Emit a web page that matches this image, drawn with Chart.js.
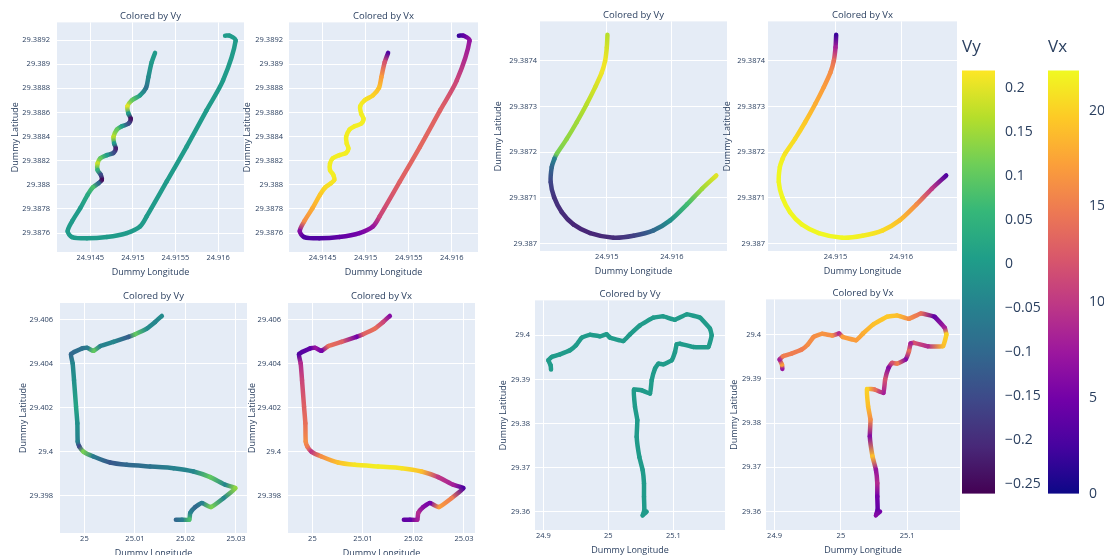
<!DOCTYPE html>
<html>
<head>
<meta charset="utf-8">
<script src="https://cdn.jsdelivr.net/npm/chart.js@4.4.1/dist/chart.umd.min.js"></script>
<style>
  html, body { margin: 0; padding: 0; background: #fff; }
  #page { position: relative; width: 1104px; height: 555px; overflow: hidden; }
  #page canvas { position: absolute; }
</style>
</head>
<body>
<div id="page"></div>
<script>
// ---- trip A (top left pair) ----
const tripALon = [24.91526, 24.915221, 24.915182, 24.915155, 24.915084, 24.914987, 24.914936, 24.914948, 24.914975, 24.914948,
  24.91487, 24.914812, 24.914773, 24.91478, 24.9148, 24.914773, 24.914695, 24.914617, 24.914586, 24.914586,
  24.914625, 24.914636, 24.914597, 24.914531, 24.914469, 24.914383, 24.914286, 24.914235, 24.914286, 24.914461,
  24.914695, 24.914929, 24.915084, 24.915162, 24.915396, 24.91563, 24.915864, 24.916058, 24.916206, 24.916136, 24.916082];
const tripALat = [29.389093, 29.389016, 29.388892, 29.388804, 29.388741, 29.3887, 29.38865, 29.38859, 29.388548, 29.388507,
  29.388485, 29.388458, 29.388397, 29.388342, 29.388301, 29.388265, 29.388246, 29.388219, 29.388177, 29.388122,
  29.388081, 29.38804, 29.388012, 29.387979, 29.387916, 29.387806, 29.387696, 29.387614, 29.387567, 29.387556,
  29.387567, 29.3876, 29.387655, 29.387738, 29.388026, 29.388315, 29.388617, 29.388865, 29.389195, 29.389236, 29.389236];
const tripAVy = [0, 0, -0.03, -0.08, 0, 0.1, 0.2, 0, -0.24, -0.15,
  0, 0.1, 0.17, 0, -0.22, -0.15, 0, 0.1, 0.18, 0.05,
  -0.15, -0.25, -0.1, 0.08, 0.03, 0, 0, 0, 0, 0,
  0, 0, 0, 0, 0, 0, 0, 0, 0, 0, 0];
const tripAVx = [3, 12, 17, 19, 20, 21, 21.5, 21.5, 21.5, 21.5,
  21.5, 21.5, 21.5, 21.5, 21.5, 21.5, 21.5, 21.5, 21.5, 21.5,
  21.5, 21, 21, 20.5, 19.5, 18, 16, 6, 3, 3,
  4, 5, 7, 11, 13, 13.5, 13, 11, 7, 4, 2];
const tripAXRange = [24.91411, 24.916304];
const tripAYRange = [29.387443, 29.389346];
const tripAXTicks = [24.9145, 24.915, 24.9155, 24.916];
const tripAYTicks = [29.3876, 29.3878, 29.388, 29.3882, 29.3884, 29.3886, 29.3888, 29.389, 29.3892];

// ---- trip B (top right pair) ----
const tripBLon = [24.91501, 24.915, 24.914974, 24.914923, 24.91482, 24.914692, 24.914538, 24.914385, 24.914231, 24.914195,
  24.914154, 24.914138, 24.91419, 24.914308, 24.914487, 24.914744, 24.915103, 24.91541, 24.915718, 24.915974,
  24.916231, 24.916462, 24.916682];
const tripBLat = [29.3874567, 29.3874291, 29.3874, 29.3873745, 29.3873418, 29.3873055, 29.3872655, 29.3872291, 29.3871964, 29.3871854,
  29.3871673, 29.3871345, 29.3871018, 29.3870691, 29.3870422, 29.3870233, 29.3870131, 29.3870174, 29.3870291, 29.3870509,
  29.3870858, 29.38712, 29.3871491];
const tripBVy = [0.17, 0.19, 0.21, 0.21, 0.19, 0.17, 0.15, 0.14, 0.12, -0.05,
  -0.1, -0.16, -0.19, -0.2, -0.21, -0.21, -0.2, -0.17, -0.1, -0.02,
  0.07, 0.15, 0.2];
const tripBVx = [2, 8, 14, 16, 17, 18, 19.5, 20.5, 21, 21.5,
  22, 22, 22, 22, 22, 22, 22, 21.5, 20.5, 19,
  16, 10, 3];
const tripBXRange = [24.913974, 24.916846];
const tripBYRange = [29.386984, 29.387486];
const tripBXTicks = [24.915, 24.916];
const tripBYTicks = [29.387, 29.3871, 29.3872, 29.3873, 29.3874];

// ---- trip C (bottom left pair) ----
const tripCLon = [25.01533, 25.014009, 25.012357, 25.010044, 25.008722, 25.005749, 25.003106, 25.001784, 25.000595, 24.999471,
  24.997357, 24.997687, 24.997951, 24.998348, 24.998612, 24.998678, 24.999009, 24.999802, 25.001784, 25.005088,
  25.008392, 25.013018, 25.017643, 25.021608, 25.024912, 25.027886, 25.029868, 25.027555, 25.025044, 25.02326,
  25.021938, 25.020947, 25.020749, 25.019295, 25.018106];
const tripCLat = [29.406166, 29.405894, 29.405593, 29.405336, 29.405215, 29.404989, 29.404793, 29.404582, 29.404717, 29.404687,
  29.404431, 29.404008, 29.403254, 29.402046, 29.401292, 29.400462, 29.400236, 29.400009, 29.399783, 29.399511,
  29.399406, 29.39933, 29.399255, 29.399104, 29.398847, 29.3985, 29.398349, 29.397897, 29.397489, 29.39767,
  29.397489, 29.397218, 29.396916, 29.396916, 29.396916];
const tripCVy = [-0.03, -0.04, -0.03, 0.1, -0.12, -0.04, -0.05, 0.1, -0.06, -0.08,
  -0.1, -0.04, -0.02, 0.02, -0.02, -0.05, -0.15, 0.12, -0.06, -0.13,
  -0.1, -0.08, -0.05, -0.04, 0.1, -0.04, 0.14, -0.04, 0.12, -0.05,
  -0.1, -0.05, 0.08, -0.06, -0.1];
const tripCVx = [6, 11, 14, 13, 5, 13, 14, 5, 7, 4,
  3, 9, 11, 13, 14, 16, 15, 10, 16, 19,
  21, 21.5, 21, 19, 10, 8, 3, 15, 17, 5,
  6, 9, 8, 4, 4];
const tripCXRange = [24.995176, 25.032181];
const tripCYRange = [29.39631, 29.406755];
const tripCXTicks = [25, 25.01, 25.02, 25.03];
const tripCYTicks = [29.398, 29.4, 29.402, 29.404, 29.406];

// ---- trip D (bottom right pair) ----
const tripDLon = [24.911794, 24.911282, 24.907692, 24.91282, 24.925641, 24.941026, 24.950256, 24.958974, 24.971795, 24.987179,
  24.997436, 25.002564, 25.023077, 25.033333, 25.048718, 25.069231, 25.084615, 25.102564, 25.120513, 25.141026,
  25.15641, 25.158974, 25.153846, 25.130769, 25.110256, 25.105128, 25.102564, 25.097436, 25.084615, 25.076923,
  25.071795, 25.066667, 25.064103, 25.051282, 25.039487, 25.041026, 25.044615, 25.04359, 25.047692, 25.052821,
  25.054872, 25.054872, 25.055385, 25.052821, 25.058974];
const tripDLat = [29.392227, 29.393208, 29.39434, 29.395094, 29.395698, 29.396604, 29.397736, 29.399472, 29.400151, 29.399774,
  29.400226, 29.399472, 29.398717, 29.400226, 29.402264, 29.404, 29.404302, 29.403547, 29.404755, 29.404,
  29.401509, 29.4, 29.397359, 29.397359, 29.398113, 29.397962, 29.396226, 29.39434, 29.393434, 29.393585,
  29.392453, 29.389812, 29.386793, 29.387547, 29.387698, 29.383774, 29.380755, 29.376982, 29.372453, 29.369434,
  29.366416, 29.363397, 29.360378, 29.359171, 29.36];
const tripDVy = [0, 0, 0, 0, 0, 0, 0, 0, 0, 0,
  0, 0, 0, 0, 0, 0, 0, 0, 0, 0,
  0, 0, 0, 0, 0, 0, 0, 0, 0, 0,
  0, 0, 0, 0, 0, 0, 0, 0, 0, 0,
  0, 0, 0, 0, 0];
const tripDVx = [7, 17, 8, 15, 15, 15, 16, 16, 16.5, 16,
  9, 17, 17, 18, 19, 19.5, 19, 16, 14, 4,
  8, 20, 19, 9, 12, 8, 14, 6, 15, 12,
  6, 12, 8, 14, 20, 19, 16, 6, 19, 7,
  9, 5, 4, 6, 5];
const tripDXRange = [24.88718, 25.17949];
const tripDYRange = [29.355849, 29.407925];
const tripDXTicks = [24.9, 25, 25.1];
const tripDYTicks = [29.36, 29.37, 29.38, 29.39, 29.4];

// ---- colour scales ----
const vyRange = [-0.2614, 0.2205];
const vxRange = [0, 22.09];
const vyBarTicks = [-0.25, -0.2, -0.15, -0.1, -0.05, 0, 0.05, 0.1, 0.15, 0.2];
const vxBarTicks = [0, 5, 10, 15, 20];

const viridis = ['#440154', '#482878', '#3e4989', '#31688e', '#26828e', '#1f9e89', '#35b779', '#6ece58', '#b5de2b', '#fde725'];
const plasma = ['#0d0887', '#46039f', '#7201a8', '#9c179e', '#bd3786', '#d8576b', '#ed7953', '#fb9f3a', '#fdca26', '#f0f921'];

const TEXT = '#2a3f5f';
Chart.defaults.font.family = "'Open Sans', Verdana, Arial, sans-serif";
Chart.defaults.color = TEXT;

function hexToRgb(h) {
  return [parseInt(h.slice(1, 3), 16), parseInt(h.slice(3, 5), 16), parseInt(h.slice(5, 7), 16)];
}

function colormap(stops, v, range) {
  let t = (v - range[0]) / (range[1] - range[0]);
  t = Math.min(1, Math.max(0, t));
  const pos = t * (stops.length - 1);
  const i = Math.min(stops.length - 2, Math.floor(pos));
  const f = pos - i;
  const a = hexToRgb(stops[i]), b = hexToRgb(stops[i + 1]);
  const c = a.map((x, k) => Math.round(x + (b[k] - x) * f));
  return 'rgb(' + c.join(',') + ')';
}

// each segment gets a gradient between the colours of its two points
function segmentColor(ctx, vals, stops, range) {
  const c0 = colormap(stops, vals[ctx.p0DataIndex], range);
  const c1 = colormap(stops, vals[ctx.p1DataIndex], range);
  const p0 = ctx.p0, p1 = ctx.p1;
  if (![p0.x, p0.y, p1.x, p1.y].every(Number.isFinite) || (p0.x === p1.x && p0.y === p1.y)) return c0;
  const g = ctx.chart.ctx.createLinearGradient(p0.x, p0.y, p1.x, p1.y);
  g.addColorStop(0, c0);
  g.addColorStop(1, c1);
  return g;
}

const plotBg = {
  id: 'plotBg',
  beforeDraw(chart, args, opts) {
    const a = chart.chartArea;
    chart.ctx.save();
    chart.ctx.fillStyle = opts.color;
    chart.ctx.fillRect(a.left, a.top, a.width, a.height);
    chart.ctx.restore();
  }
};

const colorBar = {
  id: 'colorBar',
  beforeDraw(chart, args, opts) {
    const a = chart.chartArea;
    const ctx = chart.ctx;
    const g = ctx.createLinearGradient(0, a.bottom, 0, a.top);
    opts.stops.forEach((c, i) => g.addColorStop(i / (opts.stops.length - 1), c));
    ctx.save();
    ctx.fillStyle = g;
    ctx.fillRect(a.left, a.top, a.width, a.height);
    ctx.restore();
  }
};

const page = document.getElementById('page');

function addPanel(p) {
  const yAxisW = 60, xAxisH = 34, padR = 12;
  const lh = 9.5 * 1.2;
  const padBottom = Math.max(0, (p.T - p.titleY) - lh / 2);
  const titleH = 4 + lh + padBottom;
  const canvas = document.createElement('canvas');
  canvas.width = yAxisW + (p.R - p.L) + padR;
  canvas.height = Math.round(titleH + (p.B - p.T) + xAxisH);
  canvas.style.left = (p.L - yAxisW) + 'px';
  canvas.style.top = (p.T - titleH) + 'px';
  page.appendChild(canvas);

  const tickFont = { size: 7.5 };
  const axisFont = { size: 9 };
  new Chart(canvas, {
    type: 'scatter',
    data: {
      datasets: [{
        data: p.lon.map((x, i) => ({ x: x, y: p.lat[i] })),
        showLine: true,
        borderWidth: 4.5,
        borderCapStyle: 'round',
        borderJoinStyle: 'round',
        pointRadius: 0,
        tension: p.tension,
        segment: { borderColor: c => segmentColor(c, p.vals, p.stops, p.range) }
      }]
    },
    options: {
      responsive: false,
      animation: false,
      events: [],
      layout: { padding: { left: 0, right: padR, top: 0, bottom: 0 } },
      plugins: {
        legend: { display: false },
        tooltip: { enabled: false },
        title: {
          display: true, text: p.title, fullSize: false, color: TEXT,
          font: { size: 9.5, weight: 'normal' },
          padding: { top: 4, bottom: padBottom }
        },
        plotBg: { color: '#E5ECF6' }
      },
      scales: {
        x: {
          type: 'linear', min: p.xRange[0], max: p.xRange[1],
          afterBuildTicks: s => { s.ticks = p.xTicks.map(v => ({ value: v })); },
          afterFit: s => { s.height = xAxisH; },
          grid: { color: '#ffffff', lineWidth: 1, drawTicks: false },
          border: { display: false },
          ticks: { color: TEXT, font: tickFont, padding: 1.5, maxRotation: 0, autoSkip: false, callback: v => String(v) },
          title: { display: true, text: 'Dummy Longitude', color: TEXT, font: axisFont, padding: { top: 0, bottom: 8.6 } }
        },
        y: {
          type: 'linear', min: p.yRange[0], max: p.yRange[1],
          afterBuildTicks: s => { s.ticks = p.yTicks.map(v => ({ value: v })); },
          afterFit: s => { s.width = yAxisW; },
          grid: { color: '#ffffff', lineWidth: 1, drawTicks: false },
          border: { display: false },
          ticks: { color: TEXT, font: tickFont, padding: p.yTickPad, autoSkip: false, callback: v => String(v) },
          title: { display: true, text: 'Dummy Latitude', color: TEXT, font: axisFont, padding: { top: 60 - (p.L - p.yTitleX) - 5.4, bottom: 0 } }
        }
      }
    },
    plugins: [plotBg]
  });
}

function addColorbar(c) {
  const axisW = 50, padB = 10;
  const lh = 17 * 1.2;
  const padBottom = (c.T - c.titleY) - lh / 2;
  const titleH = 4 + lh + padBottom;
  const canvas = document.createElement('canvas');
  canvas.width = (c.R - c.L) + axisW;
  canvas.height = Math.round(titleH + (c.B - c.T) + padB);
  canvas.style.left = c.L + 'px';
  canvas.style.top = (c.T - titleH) + 'px';
  page.appendChild(canvas);

  new Chart(canvas, {
    type: 'scatter',
    data: { datasets: [] },
    options: {
      responsive: false,
      animation: false,
      events: [],
      layout: { padding: { left: 0, right: 0, top: 0, bottom: padB } },
      plugins: {
        legend: { display: false },
        tooltip: { enabled: false },
        title: {
          display: true, text: c.title, align: 'start', fullSize: false, color: TEXT,
          font: { size: 17, weight: 'normal' },
          padding: { top: 4, bottom: padBottom }
        },
        colorBar: { stops: c.stops }
      },
      scales: {
        x: { display: false, min: 0, max: 1 },
        y: {
          position: 'right', min: c.range[0], max: c.range[1],
          afterBuildTicks: s => { s.ticks = c.ticks.map(v => ({ value: v })); },
          afterFit: s => { s.width = axisW; },
          grid: { display: false },
          border: { display: false },
          ticks: {
            color: TEXT, font: { size: 14 }, padding: 2, autoSkip: false,
            callback: v => (v < 0 ? '\u2212' + String(Math.abs(v)) : String(v))
          }
        }
      }
    },
    plugins: [colorBar]
  });
}

const panels = [
  { L: 57, T: 22, R: 244, B: 252, titleY: 16.7, yTitleX: 15, yTickPad: 7, title: 'Colored by Vy',
    lon: tripALon, lat: tripALat, vals: tripAVy, stops: viridis, range: vyRange, tension: 0.3,
    xRange: tripAXRange, yRange: tripAYRange, xTicks: tripAXTicks, yTicks: tripAYTicks },
  { L: 289, T: 22, R: 478, B: 252, titleY: 16.7, yTitleX: 247, yTickPad: 6, title: 'Colored by Vx',
    lon: tripALon, lat: tripALat, vals: tripAVx, stops: plasma, range: vxRange, tension: 0.3,
    xRange: tripAXRange, yRange: tripAYRange, xTicks: tripAXTicks, yTicks: tripAYTicks },
  { L: 540, T: 21, R: 727, B: 251, titleY: 16, yTitleX: 498, yTickPad: 3, title: 'Colored by Vy',
    lon: tripBLon, lat: tripBLat, vals: tripBVy, stops: viridis, range: vyRange, tension: 0.3,
    xRange: tripBXRange, yRange: tripBYRange, xTicks: tripBXTicks, yTicks: tripBYTicks },
  { L: 768, T: 21, R: 957, B: 251, titleY: 16, yTitleX: 727, yTickPad: 3, title: 'Colored by Vx',
    lon: tripBLon, lat: tripBLat, vals: tripBVx, stops: plasma, range: vxRange, tension: 0.3,
    xRange: tripBXRange, yRange: tripBYRange, xTicks: tripBXTicks, yTicks: tripBYTicks },
  { L: 60, T: 303, R: 247, B: 533, titleY: 296.7, yTitleX: 23, yTickPad: 7, title: 'Colored by Vy',
    lon: tripCLon, lat: tripCLat, vals: tripCVy, stops: viridis, range: vyRange, tension: 0.15,
    xRange: tripCXRange, yRange: tripCYRange, xTicks: tripCXTicks, yTicks: tripCYTicks },
  { L: 288, T: 303, R: 475, B: 533, titleY: 296.7, yTitleX: 252, yTickPad: 7, title: 'Colored by Vx',
    lon: tripCLon, lat: tripCLat, vals: tripCVx, stops: plasma, range: vxRange, tension: 0.15,
    xRange: tripCXRange, yRange: tripCYRange, xTicks: tripCXTicks, yTicks: tripCYTicks },
  { L: 535, T: 300, R: 725, B: 530, titleY: 295, yTitleX: 503, yTickPad: 5, title: 'Colored by Vy',
    lon: tripDLon, lat: tripDLat, vals: tripDVy, stops: viridis, range: vyRange, tension: 0.1,
    xRange: tripDXRange, yRange: tripDYRange, xTicks: tripDXTicks, yTicks: tripDYTicks },
  { L: 766, T: 299, R: 960, B: 530, titleY: 294.3, yTitleX: 734, yTickPad: 5, title: 'Colored by Vx',
    lon: tripDLon, lat: tripDLat, vals: tripDVx, stops: plasma, range: vxRange, tension: 0.1,
    xRange: tripDXRange, yRange: tripDYRange, xTicks: tripDXTicks, yTicks: tripDYTicks }
];
panels.forEach(addPanel);

addColorbar({ L: 962, T: 70, R: 995, B: 493, titleY: 46.7, title: 'Vy', stops: viridis, range: vyRange, ticks: vyBarTicks });
addColorbar({ L: 1048, T: 70, R: 1079, B: 493, titleY: 46.7, title: 'Vx', stops: plasma, range: vxRange, ticks: vxBarTicks });
</script>
</body>
</html>
